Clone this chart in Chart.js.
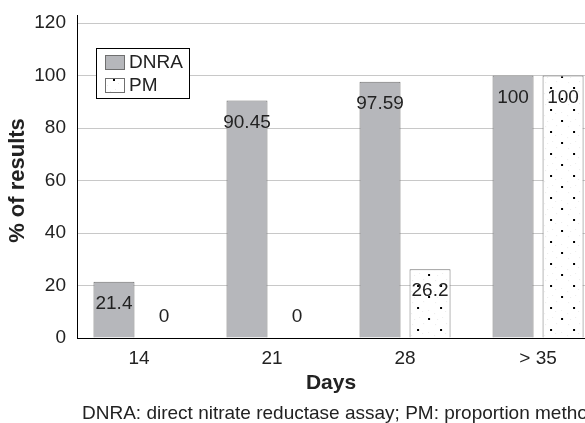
<!DOCTYPE html>
<html>
<head>
<meta charset="utf-8">
<script src="https://cdn.jsdelivr.net/npm/chart.js@4.4.0/dist/chart.umd.min.js"></script>
<style>
  html, body { margin: 0; padding: 0; background: #fff; overflow: hidden; }
  #wrap { position: relative; width: 585px; height: 423px; }
</style>
</head>
<body>
<div id="wrap"><canvas id="chart"></canvas></div>
<script>
// データ
const categories = ['14', '21', '28', '> 35'];
const dnraValues = [21.4, 90.45, 97.59, 100];
const pmValues = [0, 0, 26.2, 100];
const yTicks = [0, 20, 40, 60, 80, 100, 120];
const seriesNames = ['DNRA', 'PM'];
const footnote = 'DNRA: direct nitrate reductase assay; PM: proportion method';

const FONT = '"Liberation Sans", Arial, sans-serif';
const TEXT = '#222';
const GRAY = '#b6b7bb';
const EDGE = '#6f6f6f';

// 点描パターン（棒ごとに位置合わせ）
function dotPattern(ctx2d, ox, oy) {
  const tile = document.createElement('canvas');
  tile.width = 23;
  tile.height = 22;
  const t = tile.getContext('2d');
  t.fillStyle = '#fff';
  t.fillRect(0, 0, 23, 22);
  t.fillStyle = '#ececec';
  [[5, 4], [17, 6], [6, 16], [18, 17], [11, 3], [2, 10], [20, 12]].forEach(p => t.fillRect(p[0], p[1], 1, 1));
  t.fillStyle = '#000';
  t.fillRect(0, 0, 2, 2);
  t.fillRect(11, 11, 2, 2);
  const pat = ctx2d.createPattern(tile, 'repeat');
  pat.setTransform(new DOMMatrix().translate(ox, oy));
  return pat;
}

function pmFill(context) {
  const chart = context.chart;
  const xs = chart.scales.x;
  const ys = chart.scales.y;
  if (!xs || !ys || context.dataIndex === undefined) return '#fff';
  const left = xs.getPixelForValue(context.dataIndex) + 25 - 20.5;
  return dotPattern(chart.ctx, left + 7.5, ys.getPixelForValue(0) - 9);
}

const labelsPlugin = {
  id: 'barLabels',
  afterDatasetsDraw(chart) {
    const ctx = chart.ctx;
    ctx.save();
    ctx.font = '19px ' + FONT;
    ctx.fillStyle = TEXT;
    ctx.textAlign = 'center';
    ctx.textBaseline = 'middle';
    chart.data.datasets.forEach((ds, di) => {
      chart.getDatasetMeta(di).data.forEach((bar, i) => {
        const y = Math.min(bar.y + 22, bar.base - 21);
        ctx.fillText(String(ds.data[i].y), bar.x, y);
      });
    });
    ctx.restore();
  },
  afterDraw(chart) {
    const ctx = chart.ctx;
    const area = chart.chartArea;
    ctx.save();
    // y軸の上端
    ctx.strokeStyle = '#000';
    ctx.lineWidth = 1;
    ctx.beginPath();
    ctx.moveTo(area.left + 0.5, area.top - 8);
    ctx.lineTo(area.left + 0.5, area.top);
    ctx.stroke();

    // 凡例
    ctx.fillStyle = '#fff';
    ctx.fillRect(96, 48, 93, 50);
    ctx.strokeStyle = '#000';
    ctx.strokeRect(96.5, 48.5, 93, 50);
    ctx.fillStyle = GRAY;
    ctx.fillRect(105, 55, 19, 14);
    ctx.strokeStyle = EDGE;
    ctx.strokeRect(105.5, 55.5, 19, 14);
    ctx.fillStyle = dotPattern(ctx, 113, 79);
    ctx.fillRect(105, 78, 19, 14);
    ctx.strokeRect(105.5, 78.5, 19, 14);
    ctx.font = '19px ' + FONT;
    ctx.fillStyle = TEXT;
    ctx.textAlign = 'left';
    ctx.textBaseline = 'middle';
    ctx.fillText(seriesNames[0], 129, 63);
    ctx.fillText(seriesNames[1], 129, 86);

    // 注記
    ctx.fillText(footnote, 82, 414);
    ctx.restore();
  }
};

const ctx = document.getElementById('chart').getContext('2d');
const chart = new Chart(ctx, {
  type: 'bar',
  data: {
    datasets: [
      {
        label: seriesNames[0],
        data: dnraValues.map((v, i) => ({ x: i, y: v })),
        backgroundColor: GRAY,
        borderColor: EDGE,
        borderWidth: 1,
      },
      {
        label: seriesNames[1],
        data: pmValues.map((v, i) => ({ x: i, y: v })),
        backgroundColor: pmFill,
        borderColor: EDGE,
        borderWidth: 1,
      },
    ],
  },
  options: {
    responsive: true,
    maintainAspectRatio: false,
    animation: false,
    categoryPercentage: 0.752,
    barPercentage: 0.82,
    layout: { padding: { top: 23, right: 0, bottom: 25, left: 0 } },
    plugins: { legend: { display: false }, tooltip: { enabled: false } },
    scales: {
      x: {
        type: 'linear',
        offset: false,
        min: -0.466,
        max: 3.353,
        grid: { display: false, drawTicks: false, offset: false },
        border: { color: '#000', width: 1 },
        ticks: {
          stepSize: 1,
          includeBounds: false,
          padding: 9,
          color: TEXT,
          font: { family: FONT, size: 19 },
          callback: v => categories[v],
        },
        title: {
          display: true,
          text: 'Days',
          color: TEXT,
          font: { family: FONT, size: 21, weight: 'bold' },
          padding: { top: 0, bottom: 2 },
        },
        afterFit: s => { s.height = 60; },
      },
      y: {
        min: 0,
        max: 120,
        afterBuildTicks: s => { s.ticks = yTicks.map(v => ({ value: v })); },
        grid: { color: '#c8c8c8', lineWidth: 1, drawTicks: false },
        border: { color: '#000', width: 1 },
        ticks: {
          padding: 11,
          color: TEXT,
          font: { family: FONT, size: 19 },
        },
        title: {
          display: true,
          text: '% of results',
          color: TEXT,
          font: { family: FONT, size: 22, weight: 'bold' },
          padding: { top: 5, bottom: 0 },
        },
        afterFit: s => { s.width = 77; },
      },
    },
  },
  plugins: [labelsPlugin],
});
</script>
</body>
</html>
